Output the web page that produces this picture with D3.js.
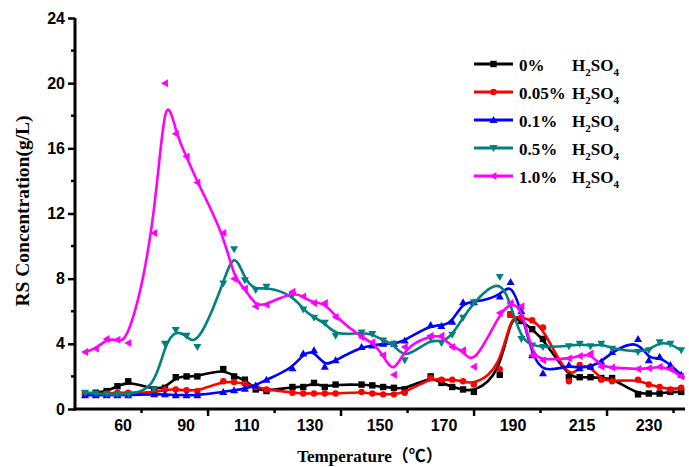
<!DOCTYPE html>
<html><head><meta charset="utf-8">
<script src="https://cdn.jsdelivr.net/npm/d3@7"></script>
<style>body{margin:0;background:#fff}svg{display:block}</style>
</head><body>
<svg id="c" width="689" height="467"></svg>
<script>
// ---- data ----
const temps = [60, 90, 110, 130, 150, 170, 190, 215, 230];
const sampleIdx = [0, 1, 2, 3, 4];            // five samplings per temperature
const groupStep = 6.4;                         // sample slots between temperature groups
const seriesNames = ["0%", "0.05%", "0.1%", "0.5%", "1.0%"];
const seriesColors = ["#000000", "#ff0000", "#0000ff", "#008080", "#ff00ff"];
const seriesSymbols = ["square", "circle", "up", "down", "left"];

const s0 = [0.95,1.0,1.1,1.4,1.7, 1.2,1.3,1.95,2.0,2.0, 2.45,2.0,1.8,1.2,1.1, 1.35,1.35,1.6,1.35,1.5,
            1.5,1.45,1.35,1.3,1.2, 2.0,1.6,1.35,1.2,1.05, 2.1,5.8,5.4,4.9,4.3, 1.95,1.95,1.95,1.9,1.9,
            0.9,0.95,0.95,1.05,1.05];
const s005 = [0.9,0.9,0.95,1.0,1.0, 1.0,1.2,1.2,1.15,1.1, 1.7,1.65,1.55,1.35,1.2, 1.0,0.95,0.95,0.95,0.95,
            1.05,0.95,0.9,0.9,1.0, 1.9,1.8,1.8,1.7,1.5, 2.45,5.8,5.6,5.45,5.0, 1.7,2.7,2.6,1.8,1.7,
            1.8,1.5,1.35,1.2,1.3];
const s01 = [0.85,0.85,0.85,0.85,0.85, 0.9,0.9,0.85,0.85,0.85, 1.05,1.15,1.25,1.45,1.8, 2.5,3.4,3.6,2.6,3.0,
            3.8,3.9,4.0,4.0,4.2, 5.15,5.1,5.35,6.55,6.55, 6.9,7.8,6.0,3.3,2.2, 2.7,2.5,2.6,2.9,3.5,
            4.3,3.0,3.2,2.7,2.1];
const s05 = [1.0,0.95,0.9,0.9,0.9, 1.2,4.0,4.85,4.5,3.8, 7.7,9.8,7.9,7.3,7.5, 7.0,6.1,5.6,5.3,4.5,
            4.7,4.6,4.2,4.0,3.0, 4.35,4.05,4.55,5.6,6.55, 8.1,6.4,4.3,3.9,3.8, 3.85,4.0,3.85,4.0,3.7,
            3.5,3.6,4.1,4.0,3.6];
const s10 = [3.5,3.7,4.3,4.25,4.05, 10.8,20.0,16.9,15.5,13.9, 10.8,8.0,7.4,6.3,6.4, 7.2,6.9,6.5,6.5,5.65,
            4.4,4.1,3.3,2.1,3.8, 4.5,4.5,3.8,3.6,2.6, 5.9,6.5,6.3,3.3,3.0, 3.1,3.25,3.4,2.6,2.55,
            2.45,2.5,2.6,2.45,2.0];
const seriesValues = [s0, s005, s01, s05, s10];

const xTickPos = [5.23, 11.39, 17.55, 23.70, 29.86, 36.02, 42.17, 48.33, 54.49];
const xLabelPos = [3.52, 9.35, 14.98, 20.83, 27.31, 33.24, 39.63, 46.02, 52.22];
const yMajor = [0, 4, 8, 12, 16, 20, 24];
const yMinor = [2, 6, 10, 14, 18, 22];

// ---- chart ----
const svg = d3.select("#c");
const x = d3.scaleLinear().domain([-0.93, 55.55]).range([75, 685]);
const y = d3.scaleLinear().domain([0, 24]).range([409, 18]);

const tickFont = "'Liberation Sans', Arial, sans-serif";
const serif = "'Liberation Serif', 'Times New Roman', serif";

const pts = seriesValues.map(vals => {
  const out = [];
  temps.forEach((t, g) => sampleIdx.forEach(i => {
    out.push({pos: g * groupStep + i, v: vals[g * sampleIdx.length + i]});
  }));
  return out;
});

const line = d3.line().x(d => x(d.pos)).y(d => y(d.v)).curve(d3.curveBasis);

function drawSymbol(sel, type, cx, cy, color) {
  const r = 3.2;
  if (type === "square") sel.append("rect").attr("x", cx - r).attr("y", cy - r).attr("width", 2*r).attr("height", 2*r).attr("fill", color);
  else if (type === "circle") sel.append("circle").attr("cx", cx).attr("cy", cy).attr("r", r).attr("fill", color);
  else {
    const s = 4;
    let p;
    if (type === "up") p = [[cx, cy - s], [cx - s, cy + s*0.75], [cx + s, cy + s*0.75]];
    else if (type === "down") p = [[cx, cy + s], [cx - s, cy - s*0.75], [cx + s, cy - s*0.75]];
    else p = [[cx - s, cy], [cx + s*0.75, cy - s], [cx + s*0.75, cy + s]];
    sel.append("path").attr("d", "M" + p.map(q => q.join(",")).join("L") + "Z").attr("fill", color);
  }
}

const gSeries = svg.append("g");
pts.forEach((data, k) => {
  const g = gSeries.append("g");
  g.append("path").datum(data).attr("d", line).attr("fill", "none")
    .attr("stroke", seriesColors[k]).attr("stroke-width", 2.6);
  data.forEach(d => drawSymbol(g, seriesSymbols[k], x(d.pos), y(d.v), seriesColors[k]));
});

// axes
const yAxis = d3.axisLeft(y).tickValues(yMajor).tickSize(7).tickPadding(3).tickFormat(d3.format("d"));
const yg = svg.append("g").attr("transform", "translate(75,0)").call(yAxis);
yg.select(".domain").attr("stroke-width", 3).attr("d", "M0," + y(24) + "V" + (y(0) + 1.5));
yg.selectAll(".tick line").attr("stroke-width", 2.5);
yg.selectAll("text").attr("font-family", tickFont).attr("font-weight", "bold").attr("font-size", 16).attr("fill", "#000");
svg.append("g").selectAll("line").data(yMinor).join("line")
  .attr("x1", 71).attr("x2", 75).attr("y1", d => y(d)).attr("y2", d => y(d))
  .attr("stroke", "#000").attr("stroke-width", 2.5);

svg.append("line").attr("x1", 73.5).attr("x2", 685).attr("y1", y(0)).attr("y2", y(0))
  .attr("stroke", "#000").attr("stroke-width", 3);
svg.append("g").selectAll("line").data(xTickPos).join("line")
  .attr("x1", d => x(d)).attr("x2", d => x(d))
  .attr("y1", y(0)).attr("y2", (d, i) => y(0) + (i % 2 === 1 ? 7 : 4))
  .attr("stroke", "#000").attr("stroke-width", 2.5);
svg.append("g").selectAll("text").data(temps).join("text")
  .attr("x", (d, i) => x(xLabelPos[i])).attr("y", 431)
  .attr("text-anchor", "middle").attr("font-family", tickFont).attr("font-weight", "bold")
  .attr("font-size", 16).text(d => d);

// titles
svg.append("text").attr("x", 370).attr("y", 462).attr("text-anchor", "middle")
  .attr("font-family", serif + ", 'Noto Sans CJK SC'").attr("font-weight", "bold").attr("font-size", 17)
  .text("Temperature（℃）");
svg.append("text").attr("transform", "translate(29,211) rotate(-90)").attr("text-anchor", "middle")
  .attr("font-family", serif).attr("font-weight", "bold").attr("font-size", 19.5)
  .text("RS Concentration(g/L)");

// legend
const leg = svg.append("g");
seriesNames.forEach((name, k) => {
  const ly = 64 + k * 28;
  leg.append("line").attr("x1", 474).attr("x2", 513).attr("y1", ly).attr("y2", ly)
    .attr("stroke", seriesColors[k]).attr("stroke-width", 3);
  drawSymbol(leg, seriesSymbols[k], 493.5, ly, seriesColors[k]);
  leg.append("text").attr("x", 519).attr("y", ly + 7).attr("font-family", serif)
    .attr("font-weight", "bold").attr("font-size", 17).text(name);
  const t = leg.append("text").attr("x", 572).attr("y", ly + 7).attr("font-family", serif)
    .attr("font-weight", "bold").attr("font-size", 17);
  t.append("tspan").text("H");
  t.append("tspan").attr("font-size", 11).attr("dy", 5).text("2");
  t.append("tspan").attr("dy", -5).text("SO");
  t.append("tspan").attr("font-size", 11).attr("dy", 5).text("4");
});
</script>
</body></html>
